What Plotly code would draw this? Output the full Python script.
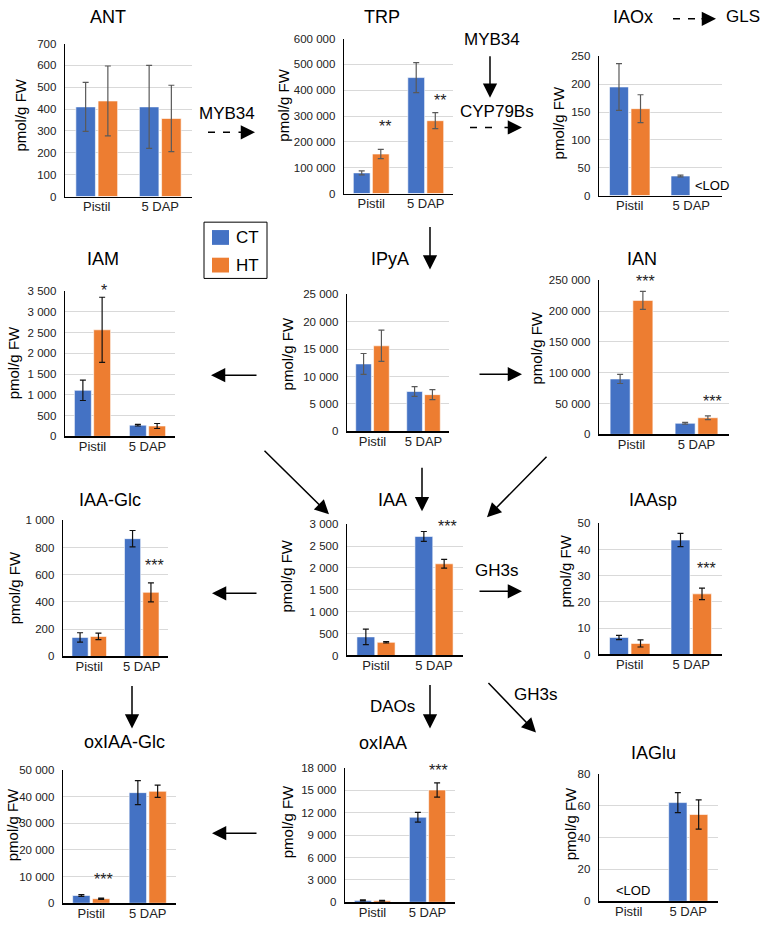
import plotly.graph_objects as go

W, H = 767, 927
categories = ["Pistil", "5 DAP"]
series_names = ["CT", "HT"]

# ---- data (pmol/g FW), [Pistil, 5 DAP]; None = <LOD ----
ANT_ct, ANT_ct_err = [410, 410], [112, 190]
ANT_ht, ANT_ht_err = [437, 357], [160, 152]
TRP_ct, TRP_ct_err = [80000, 449000], [8000, 58000]
TRP_ht, TRP_ht_err = [153000, 282000], [18000, 31000]
IAOx_ct, IAOx_ct_err = [195, 35], [42, 1.5]
IAOx_ht, IAOx_ht_err = [156, None], [25, None]
IAM_ct, IAM_ct_err = [1110, 270], [245, 20]
IAM_ht, IAM_ht_err = [2570, 250], [785, 60]
IPyA_ct, IPyA_ct_err = [12300, 7280], [1900, 900]
IPyA_ht, IPyA_ht_err = [15600, 6700], [2850, 900]
IAN_ct, IAN_ct_err = [90000, 18000], [7400, 1500]
IAN_ht, IAN_ht_err = [217500, 27000], [14600, 3000]
IAAGlc_ct, IAAGlc_ct_err = [140, 865], [34, 60]
IAAGlc_ht, IAAGlc_ht_err = [147, 471], [24, 70]
IAA_ct, IAA_ct_err = [425, 2720], [175, 113]
IAA_ht, IAA_ht_err = [300, 2095], [15, 100]
IAAsp_ct, IAAsp_ct_err = [6.5, 43.6], [0.8, 2.5]
IAAsp_ht, IAAsp_ht_err = [4.2, 23.1], [1.35, 2.2]
oxIAAGlc_ct, oxIAAGlc_ct_err = [2900, 41500], [300, 4500]
oxIAAGlc_ht, oxIAAGlc_ht_err = [1700, 42000], [250, 2300]
oxIAA_ct, oxIAA_ct_err = [250, 11400], [80, 650]
oxIAA_ht, oxIAA_ht_err = [200, 15050], [50, 950]
IAGlu_ct, IAGlu_ct_err = [None, 62], [None, 6.3]
IAGlu_ht, IAGlu_ht_err = [None, 54.5], [None, 9.2]

BLUE = "#4472C4"
ORANGE = "#ED7D31"
SERIES_COLORS = [BLUE, ORANGE]
FONT = "Liberation Sans, Arial, sans-serif"

# panel: name, ct, ct_err, ht, ht_err, ymax, dtick, plot box px (x0,x1,y0,y1), title px, ylabel px, errcolor
panels = [
    ("ANT", ANT_ct, ANT_ct_err, ANT_ht, ANT_ht_err, 700, 100, (65, 192, 38, 193), (108, 11), (21, 111), "#595959"),
    ("TRP", TRP_ct, TRP_ct_err, TRP_ht, TRP_ht_err, 600000, 100000, (344, 453, 33, 190), (382, 11), (284, 101), "#595959"),
    ("IAOx", IAOx_ct, IAOx_ct_err, IAOx_ht, IAOx_ht_err, 250, 50, (599, 722, 51, 192), (633, 11), (558, 119), "#595959"),
    ("IAM", IAM_ct, IAM_ct_err, IAM_ht, IAM_ht_err, 3500, 500, (65, 175, 289, 436), (103, 256), (13, 362), "#111111"),
    ("IPyA", IPyA_ct, IPyA_ct_err, IPyA_ht, IPyA_ht_err, 25000, 5000, (347, 449, 292, 431), (390, 256), (287, 353), "#595959"),
    ("IAN", IAN_ct, IAN_ct_err, IAN_ht, IAN_ht_err, 250000, 50000, (599, 729, 278, 434), (642, 256), (537, 347), "#595959"),
    ("IAA-Glc", IAAGlc_ct, IAAGlc_ct_err, IAAGlc_ht, IAAGlc_ht_err, 1000, 200, (63, 168, 521, 659), (110, 500), (14, 590), "#111111"),
    ("IAA", IAA_ct, IAA_ct_err, IAA_ht, IAA_ht_err, 3000, 500, (347, 463, 525, 658), (392, 500), (287, 578), "#111111"),
    ("IAAsp", IAAsp_ct, IAAsp_ct_err, IAAsp_ht, IAAsp_ht_err, 50, 10, (599, 722, 524, 657), (653, 500), (566, 573), "#111111"),
    ("oxIAA-Glc", oxIAAGlc_ct, oxIAAGlc_ct_err, oxIAAGlc_ht, oxIAAGlc_ht_err, 50000, 10000, (63, 176, 774, 909), (124, 746), (12, 830), "#111111"),
    ("oxIAA", oxIAA_ct, oxIAA_ct_err, oxIAA_ht, oxIAA_ht_err, 18000, 3000, (345, 455, 772, 908), (383, 747), (287, 827), "#111111"),
    ("IAGlu", IAGlu_ct, IAGlu_ct_err, IAGlu_ht, IAGlu_ht_err, 80, 20, (599, 718, 778, 907), (653, 757), (570, 829), "#111111"),
]


def px(x):
    return x / W


def py(y):
    return 1 - y / H


fig = go.Figure()
layout = {}
annotations = []
shapes = []

for i, (name, ct, cte, ht, hte, ymax, dt, box, tpos, ypos, ecol) in enumerate(panels):
    n = "" if i == 0 else str(i + 1)
    xa, ya = "x" + n, "y" + n
    x0, x1, y0, y1 = box
    for sname, vals, errs, col in ((series_names[0], ct, cte, BLUE), (series_names[1], ht, hte, ORANGE)):
        fig.add_trace(go.Bar(
            x=categories, y=vals, name=sname, xaxis=xa, yaxis=ya,
            marker=dict(color=col, line=dict(color="white", width=0.6)),
            error_y=dict(type="data", array=errs, visible=True, color=ecol, thickness=1.2, width=3),
            showlegend=False, legendgroup=sname,
        ))
    layout["xaxis" + n] = dict(
        domain=[px(x0), px(x1)], anchor=ya, type="category",
        showline=True, linecolor="black", linewidth=1.3, ticks="", showgrid=False,
        ticklabelstandoff=-2,
        tickfont=dict(size=13, color="#222", family=FONT), fixedrange=True,
    )
    layout["yaxis" + n] = dict(
        domain=[py(y1), py(y0)], anchor=xa, range=[0, ymax], dtick=dt, tickformat=",d",
        showline=True, linecolor="black", linewidth=1.3, ticks="", showgrid=True,
        gridcolor="#d9d9d9", gridwidth=1, zeroline=False, ticklabelstandoff=5,
        tickfont=dict(size=11.5, color="#222", family=FONT), fixedrange=True,
    )
    annotations.append(dict(x=px(tpos[0]), y=py(tpos[1]), xref="paper", yref="paper", text=name,
                            showarrow=False, font=dict(size=18, color="black", family=FONT),
                            xanchor="center", yanchor="middle"))
    annotations.append(dict(x=px(ypos[0]), y=py(ypos[1]), xref="paper", yref="paper", text="pmol/g FW",
                            showarrow=False, textangle=-90, font=dict(size=15, color="black", family=FONT),
                            xanchor="center", yanchor="middle"))

# significance stars (px position of glyph centre)
stars = [(385, 119, "**"), (440, 93, "**"), (104, 285, "*"), (645, 276, "***"), (712, 398, "***"),
         (154, 564, "***"), (448, 524, "***"), (706, 567, "***"), (103, 882, "***"), (438, 772, "***")]
for sx, sy, st in stars:
    annotations.append(dict(x=px(sx), y=py(sy + 3), xref="paper", yref="paper", text=st, showarrow=False,
                            font=dict(size=16, color="#222", family=FONT), xanchor="center", yanchor="middle"))

# other labels
labels = [("MYB34", 227, 109, 17), ("MYB34", 492, 34, 17), ("CYP79Bs", 497, 107, 17), ("GLS", 743, 11, 17),
          ("GH3s", 496, 572, 17), ("GH3s", 535, 698, 17), ("DAOs", 392, 710, 17),
          ("&lt;LOD", 712, 182, 13), ("&lt;LOD", 633, 896, 13)]
for t, lx, ly, fs in labels:
    annotations.append(dict(x=px(lx), y=py(ly), xref="paper", yref="paper", text=t, showarrow=False,
                            font=dict(size=fs, color="black", family=FONT), xanchor="center", yanchor="middle"))

# solid arrows: tail (x,y) -> head (x,y) in px
arrows = [((490, 50), (490, 93)), ((430, 223), (430, 267)), ((258, 374), (211, 374)),
          ((478, 373), (522, 373)), ((263, 450), (329, 515)), ((422, 467), (422, 512)),
          ((548, 456), (487, 518)), ((258, 595), (212, 595)), ((478, 593), (522, 593)),
          ((132, 688), (132, 732)), ((430, 687), (430, 732)), ((258, 838), (212, 838)),
          ((487, 685), (536, 736)),
          # last solid segment of dashed arrows
          ((237, 128), (255, 128)), ((503, 123), (522, 123)), ((700, 13), (716, 13))]
for (tx, ty), (hx, hy) in arrows:
    annotations.append(dict(x=px(hx), y=py(hy), xref="paper", yref="paper", ax=tx - hx, ay=ty - hy,
                            axref="pixel", ayref="pixel", text="", showarrow=True, arrowhead=2,
                            arrowsize=1.9, arrowwidth=1.5, arrowcolor="black", standoff=0))

# dashed parts
dashes = [((208, 128), (231, 128)), ((470, 123), (496, 123)), ((673, 13), (695, 13))]
for (ax0, ay0), (ax1, ay1) in dashes:
    shapes.append(dict(type="line", xref="paper", yref="paper", x0=px(ax0), y0=py(ay0), x1=px(ax1), y1=py(ay1),
                       line=dict(color="black", width=1.5, dash="7px,8px")))

# legend box (CT / HT)
shapes.append(dict(type="rect", xref="paper", yref="paper", x0=px(204), x1=px(267), y0=py(276), y1=py(219),
                   line=dict(color="black", width=1), fillcolor="white"))
for k, (sname, col) in enumerate(zip(series_names, SERIES_COLORS)):
    top = 227 + 28 * k
    shapes.append(dict(type="rect", xref="paper", yref="paper", x0=px(212), x1=px(229),
                       y0=py(top + 15), y1=py(top), line=dict(width=0), fillcolor=col))
    annotations.append(dict(x=px(234), y=py(top + 7.5), xref="paper", yref="paper", text=sname,
                            showarrow=False, font=dict(size=17, color="black", family=FONT),
                            xanchor="left", yanchor="middle"))

fig.update_layout(
    width=W, height=H, margin=dict(l=0, r=0, t=0, b=0),
    paper_bgcolor="white", plot_bgcolor="white",
    barmode="group", bargap=0.3, bargroupgap=0.12,
    separators=". ",
    font=dict(family=FONT, color="black"),
    showlegend=False,
    annotations=annotations, shapes=shapes,
    **layout,
)

fig.write_html("out.html", config={"displayModeBar": False, "staticPlot": True},
               post_script="document.body.style.margin='0';document.body.style.padding='0';")
